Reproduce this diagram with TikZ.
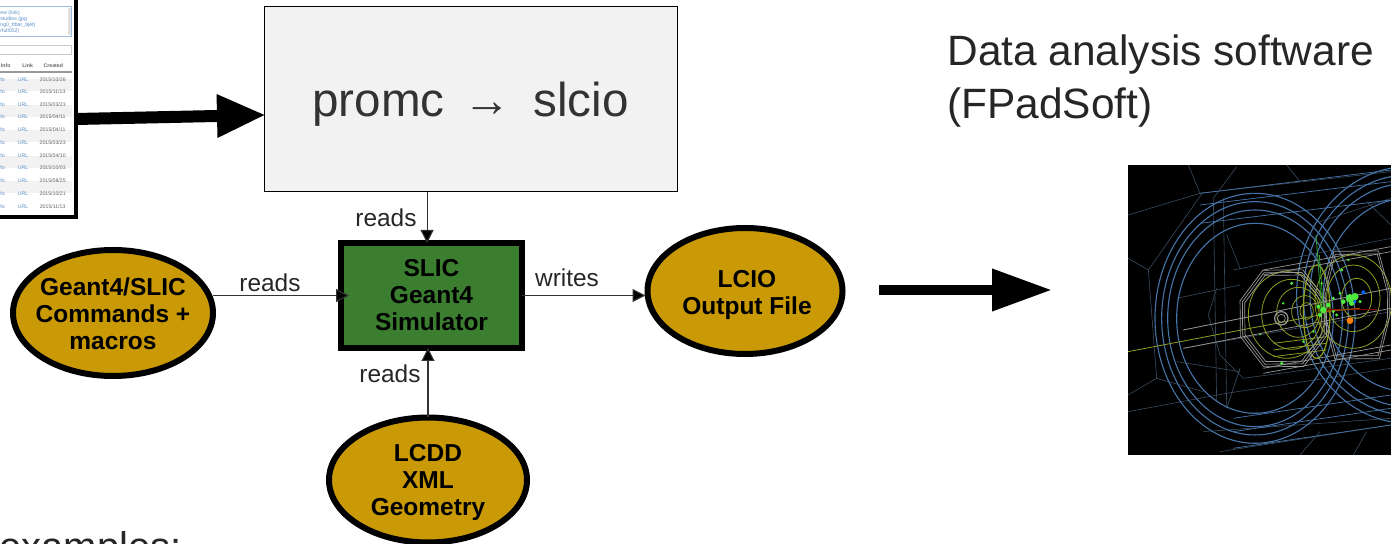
\documentclass[tikz,border=0pt]{standalone}
\usepackage{fontspec}
\setmainfont{Liberation Sans}
\usetikzlibrary{shapes.geometric,arrows.meta}
\definecolor{gold}{HTML}{C99A05}
\definecolor{simgreen}{HTML}{3B7E30}
\definecolor{boxgrey}{HTML}{F2F2F2}
\definecolor{ringblue}{HTML}{4575A8}
\definecolor{wire}{HTML}{3A4C5E}
\definecolor{yel}{HTML}{8F9E22}
\definecolor{linkblue}{HTML}{5B8FC9}
\definecolor{hit}{HTML}{4FE83C}
\tikzset{
  goldell/.style={ellipse,draw=black,line width=3pt,fill=gold,inner sep=0pt,outer sep=0pt},
  goldtxt/.style={inner sep=0pt,align=center,font=\fontsize{12.25}{13.5}\selectfont\bfseries,text=black},
  thinarrow/.style={draw=black!80,line width=0.55pt,-{Triangle[length=6.5pt,width=6.5pt,fill=black]}},
  bigarrowa/.style={draw=black,line width=6pt,-{Triangle[length=24.5pt,width=20pt,fill=black]}},
  bigarrowb/.style={draw=black,line width=5pt,-{Triangle[length=30pt,width=20pt,fill=black]}},
  lab/.style={font=\fontsize{12.2}{14}\selectfont,text=black!85,inner sep=0pt},
  bigtxt/.style={font=\fontsize{21.2}{26.5}\selectfont,text=black!85,inner sep=0pt,anchor=base west,align=left},
  tb/.style={font=\fontsize{2.6}{3}\selectfont,inner sep=0pt,text=black!60},
  tl/.style={tb,text=linkblue},
  ringb/.style={draw=ringblue,line width=0.55pt},
  wirel/.style={draw=wire,line width=0.3pt},
  ringy/.style={draw=yel,line width=0.4pt},
  ringw/.style={draw=white!60!black,line width=0.35pt}
}
\begin{document}
\begin{tikzpicture}[x=0.5pt,y=-0.5pt]
\useasboundingbox (0,0) rectangle (1391,544);
% screenshot
\node[draw=black,line width=2pt,fill=white,minimum width=43pt,minimum height=110pt,inner sep=0pt,outer sep=0pt] (shot) at (33,107) {};
\begin{scope}[shift={(0,0)},scale=0.3333]
 \clip (0,0) rectangle (220,640);
 \draw[draw=linkblue!60,line width=0.5pt,fill=white] (-10,20) rectangle (215,110);
 \fill[black!12] (205,25) rectangle (214,105);
 \foreach \yy/\tt in {38/ew (link),57/studies (jpg/s),76/ng0\_ttbar\_bjet),94/rfull002)}
   \node[tb,anchor=west,text=linkblue] at (0,\yy) {\tt};
 \draw[black!20,line width=0.4pt] (-10,137) rectangle (215,163);
 \node[tb,font=\fontsize{2.6}{3}\selectfont\bfseries] at (17,197) {Info};
 \node[tb,font=\fontsize{2.6}{3}\selectfont\bfseries] at (83,197) {Link};
 \node[tb,font=\fontsize{2.6}{3}\selectfont\bfseries] at (160,197) {Created};
 \draw[black!40,line width=0.6pt] (-5,216) -- (215,216);
 \foreach \yy in {256,332,409,485,562}
   \fill[black!5] (0,\yy-18) rectangle (215,\yy+18);
 \foreach \yy/\dd in {238/{2015/10/26},275/{2015/11/13},313/{2015/03/23},351/{2015/04/11},390/{2015/04/11},428/{2015/03/23},466/{2015/04/10},504/{2015/10/03},543/{2015/08/25},581/{2015/10/21},620/{2015/11/13}}{
   \node[tl] at (8,\yy) {fo};
   \node[tl] at (69,\yy) {URL};
   \node[tb] at (158,\yy) {\dd};
 }
\end{scope}
% grey box
\node[draw=black,line width=0.5pt,fill=boxgrey,minimum width=206.5pt,minimum height=92.5pt,inner sep=0pt,outer sep=0pt] (promc) at (470.5,99.5) {};
\node[inner sep=0pt,font=\fontsize{23.8}{28}\selectfont,text=black!80] (promctxt) at (470.5,104) {promc\hspace{3pt} → \hspace{4.5pt}slcio};
% simulator
\node[draw=black,line width=2.75pt,fill=simgreen,minimum width=90.5pt,minimum height=52.5pt,inner sep=0pt,outer sep=0pt] (slic) at (431.5,295.5) {};
\node[goldtxt] (slictxt) at (431.5,295.5) {SLIC\\Geant4\\Simulator};
% ellipses
\node[goldell,minimum width=100pt,minimum height=63pt] (g4) at (113,313) {};
\node[goldtxt] (g4txt) at (113,314) {Geant4/SLIC\\Commands +\\macros};
\node[goldell,minimum width=97.5pt,minimum height=63pt] (lcio) at (745,291) {};
\node[goldtxt] (lciotxt) at (747,295) {LCIO\\Output File};
\node[goldell,minimum width=99pt,minimum height=62.5pt] (lcdd) at (428,480) {};
\node[goldtxt] (lcddtxt) at (428,482) {LCDD\\XML\\Geometry};
% detector picture
\node[fill=black,minimum width=131.5pt,minimum height=145pt,inner sep=0pt,outer sep=0pt] (det) at (1259.5,310) {};
\begin{scope}[shift={(1120,155)},scale=0.3333]
 \clip (24,30) rectangle (813,900);
 % wire frame
 \foreach \a/\b/\c/\d in {24/180/240/115,240/115/813/50,24/310/85/345,85/345/250/110,205/30/240/115,
   24/720/110/670,110/670/250/710,24/770/320/715,320/715/813/640,250/830/813/790,300/890/813/810,
   350/35/280/130,500/30/540/80,280/130/290/740,310/130/320/760,85/345/110/670,
   170/430/360/390,170/620/360/650,290/400/265/480,265/480/300/600,300/600/370/670,
   340/345/813/250,370/670/813/610,190/525/813/400,190/580/813/470,
   540/900/600/830,700/900/740/830,740/140/813/210,600/200/813/130,320/240/360/340,360/640/320/760}
   \draw[wirel] (\a,\b) -- (\c,\d);
 % blue rings
 \foreach \rx/\ry in {300/375,280/350,262/325,235/285}
   \draw[ringb] (405,490) ellipse ({\rx} and {\ry});
 \foreach \rx/\ry in {335/385,315/360,295/335,255/290}
   \draw[ringb] (865,420) ellipse ({\rx} and {\ry});
 \foreach \yy in {115,150,205}
   \draw[ringb,line width=0.35pt] (240,\yy) -- (813,\yy-70);
 \foreach \yy in {790,830,880}
   \draw[ringb,line width=0.35pt] (340,\yy) -- (813,\yy-70);
 % inner cylinder lines
 \foreach \yy in {345,360,640,655}
   \draw[ringw] (430,\yy) -- (813,\yy-70);
 \draw[ringw] (190,525) -- (813,400);
 \draw[ringw] (190,580) -- (813,460);
 \draw[ringy] (24,590) -- (600,480);
 % yellow rings
 \foreach \cx/\cy/\rx/\ry in {500/480/115/130,515/478/90/105,535/472/65/75,555/470/40/48,560/468/20/25,700/440/115/140,700/430/80/100,710/430/45/60}
   \draw[ringy] (\cx,\cy) ellipse ({\rx} and {\ry});
 \draw[ringy,line width=0.6pt] (590,470) ellipse (40 and 140);
 \foreach \yy in {565,585,605}
   \draw[ringy] (460,\yy) -- (620,\yy-20);
 % white polygons
 \begin{scope}[shift={(490,490)}]
 \foreach \rr in {1,1.06,1.12}
   \draw[ringw,x=0.5pt*\rr,y=-0.5pt*\rr] (22:125) -- (67:140) -- (112:140) -- (157:125) -- (202:125) -- (247:140) -- (292:140) -- (337:125) -- cycle;
 \end{scope}
 \begin{scope}[shift={(710,450)}]
 \foreach \rr in {1,1.06}
   \draw[ringw,x=0.5pt*\rr,y=-0.5pt*\rr] (22:100) -- (67:165) -- (112:165) -- (157:100) -- (202:100) -- (247:165) -- (292:165) -- (337:100) -- cycle;
 \end{scope}
 \draw[ringw,line width=0.6pt] (484,490) circle (20);
 \draw[ringw] (484,490) circle (12);
 % tracks and hits
 \draw[hit!70!black,line width=0.4pt] (588,240) -- (605,460);
 \draw[hit!70!black,line width=0.4pt] (598,300) -- (610,460);
 \draw[red!50!black,line width=0.5pt] (610,465) -- (770,465);
 \draw[orange!60!black,line width=0.6pt] (610,470) -- (720,460);
 \foreach \x/\y/\r in {610/465/10,625/450/7,600/480/6,640/430/5,660/415/5,670/440/7,690/430/13,705/425/11,695/445/8,650/480/5,665/345/5,685/315/4,605/385/4,515/385/5,490/445/4,550/560/4,580/530/4,485/625/5,420/538/3,640/470/5,720/440/5,595/455/6}
   \fill[hit] (\x,\y) circle (\r);
 \fill[orange] (690,497) circle (10);
 \fill[blue!60!cyan] (730,412) circle (6);
 \fill[blue!60!cyan] (705,440) circle (5);
\end{scope}
% free ends
\coordinate (bigend) at (1052,290);
\coordinate (lcioout) at (879,290);
% connectors
\draw[bigarrowa,shorten >=-1pt] (shot.east |- 0,119) -- (promc.west |- 0,115);
\draw[bigarrowb] (lcioout) -- (bigend);
\draw[thinarrow] ([xshift=-2.2pt]slic.north |- promc.south) -- ([xshift=-2.2pt]slic.north);
\draw[thinarrow] (lcdd.north) -- (lcdd.north |- slic.south);
\draw[thinarrow,shorten >=-4pt] (g4.east |- slic.west) -- (slic.west);
\draw[thinarrow,shorten >=1pt] (slic.east) -- (lcio.west |- slic.east);
% labels
\node[lab] (l1) at (270,283) {reads};
\node[lab] (l2) at (567,278) {writes};
\node[lab] (l3) at (386,218) {reads};
\node[lab] (l4) at (390,374) {reads};
\node[bigtxt] (t1) at (947,119) {Data analysis software\\(FPadSoft)};
\node[bigtxt,font=\fontsize{20}{24}\selectfont] (t2) at (-1,560) {examples:};
\end{tikzpicture}
\end{document}
